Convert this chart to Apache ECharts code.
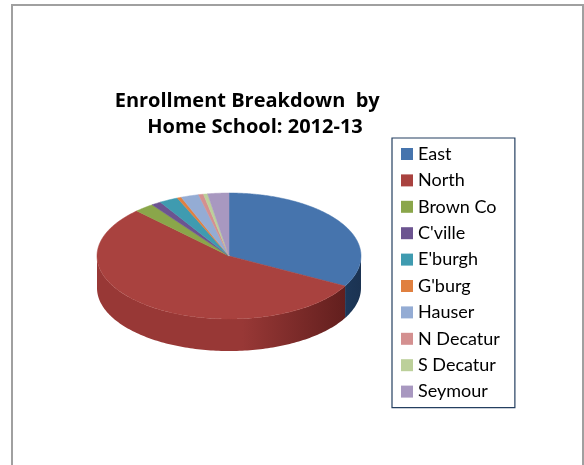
<!DOCTYPE html>
<html>
<head>
<meta charset="utf-8">
<script src="https://cdn.jsdelivr.net/npm/echarts@6/dist/echarts.min.js"></script>
<style>html,body{margin:0;padding:0;background:#fff}#c{width:584px;height:465px}</style>
</head>
<body>
<div id="c"></div>
<script>
var categories = ['East', 'North', 'Brown Co', "C'ville", "E'burgh", "G'burg", 'Hauser', 'N Decatur', 'S Decatur', 'Seymour'];
var values = [329, 548, 24, 12, 23, 5, 22, 6, 5, 26];
var topColors = ['#4674ad', '#a9423f', '#8aa64a', '#6c5490', '#3f9bb0', '#e08040', '#94acd4', '#d49090', '#bcd09a', '#a898c0'];
var sideLight = ['#2b5486', '#983836', '#6f8a38', '#554075', '#2f7d90', '#b86030', '#7088b0', '#b07070', '#98ac78', '#8878a0'];
var sideDark  = ['#1b3352', '#5a1b1a', '#4a5c25', '#382a4e', '#1f5460', '#7a4020', '#4a5a78', '#784a4a', '#667352', '#5a506b'];
var titleText = 'Enrollment Breakdown  by   \nHome School: 2012-13';

var total = values.reduce(function (a, b) { return a + b; }, 0);
var CX = 229, CY = 256, RX = 132, RY = 63, DEPTH = 32;

function pt(t, dy) {
  return [CX + RX * Math.cos(t), CY - RY * Math.sin(t) + (dy || 0)];
}

function makeRender(i) {
  return function (params, api) {
    var before = 0;
    for (var k = 0; k < i; k++) before += values[k];
    var v = api.value(0);
    var t0 = Math.PI / 2 - 2 * Math.PI * before / total;
    var t1 = Math.PI / 2 - 2 * Math.PI * (before + v) / total;
    var children = [];
    var a = Math.max(t1, -Math.PI), b = Math.min(t0, 0);
    if (b > a) {
      var sp = [];
      var n = Math.max(4, Math.ceil((b - a) / 0.02));
      for (var s = 0; s <= n; s++) sp.push(pt(b - (b - a) * s / n, 0));
      for (var s2 = 0; s2 <= n; s2++) sp.push(pt(a + (b - a) * s2 / n, DEPTH));
      children.push({
        type: 'polygon', shape: { points: sp },
        style: {
          fill: { type: 'linear', x: CX - RX, y: 0, x2: CX + RX, y2: 0, global: true,
            colorStops: [{ offset: 0, color: sideLight[i] }, { offset: 0.55, color: sideLight[i] }, { offset: 1, color: sideDark[i] }] },
          stroke: null
        }
      });
    }
    var tp = [[CX, CY]];
    var m = Math.max(3, Math.ceil((t0 - t1) / 0.01));
    for (var j = 0; j <= m; j++) tp.push(pt(t0 - (t0 - t1) * j / m, 0));
    children.push({
      type: 'polygon', shape: { points: tp },
      style: { fill: topColors[i], stroke: topColors[i], lineWidth: 0.5 }
    });
    return { type: 'group', children: children };
  };
}

var series = categories.map(function (name, i) {
  return {
    type: 'custom', name: name, coordinateSystem: 'none',
    itemStyle: { color: topColors[i] },
    renderItem: makeRender(i),
    data: [[values[i]]],
    silent: true, animation: false
  };
});

var chart = echarts.init(document.getElementById('c'), null, { renderer: 'canvas' });
chart.setOption({
  backgroundColor: '#fff',
  animation: false,
  title: {
    text: titleText, left: 250, top: 83, textAlign: 'center',
    textStyle: { fontFamily: 'Open Sans', fontWeight: 'bold', fontSize: 20, lineHeight: 26, color: '#000' }
  },
  legend: {
    orient: 'vertical', left: 392, top: 138,
    data: categories,
    icon: 'rect', itemWidth: 12, itemHeight: 12, itemGap: 8.4, itemTextGap: 10,
    padding: [7, 15, 7, 9],
    borderColor: '#243f60', borderWidth: 1.2, backgroundColor: '#fff',
    selectedMode: false,
    textStyle: { fontFamily: 'Lato', fontSize: 18, lineHeight: 18, color: '#000' }
  },
  graphic: [{
    type: 'rect', shape: { x: 12, y: 5, width: 571, height: 480 },
    style: { fill: null, stroke: '#a0a0a0', lineWidth: 2 }, silent: true, z: -1
  }],
  series: series
});
</script>
</body>
</html>
